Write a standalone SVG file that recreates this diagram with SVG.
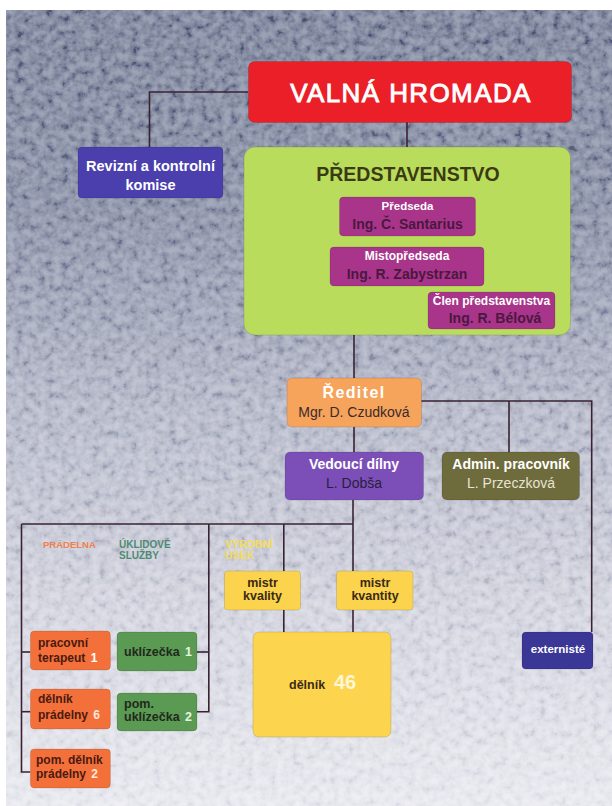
<svg xmlns="http://www.w3.org/2000/svg" width="612" height="806" viewBox="0 0 612 806">
<defs>
  <linearGradient id="bg" x1="0" y1="0" x2="0" y2="1">
    <stop offset="0" stop-color="#6d768e"/>
    <stop offset="0.25" stop-color="#858ca2"/>
    <stop offset="0.5" stop-color="#b9bccb"/>
    <stop offset="0.75" stop-color="#d9dae3"/>
    <stop offset="1" stop-color="#eeeef3"/>
  </linearGradient>
  <linearGradient id="fade" x1="0" y1="0" x2="0" y2="1">
    <stop offset="0" stop-color="#fff" stop-opacity="1"/>
    <stop offset="0.6" stop-color="#fff" stop-opacity="0.55"/>
    <stop offset="1" stop-color="#fff" stop-opacity="0.25"/>
  </linearGradient>
  <mask id="noiseMask">
    <rect x="0" y="0" width="612" height="806" fill="url(#fade)"/>
  </mask>
  <filter id="noise" x="0" y="0" width="100%" height="100%">
    <feTurbulence type="fractalNoise" baseFrequency="0.13" numOctaves="4" seed="11"/>
    <feColorMatrix type="matrix" values="1.9 0 0 0 -0.42  1.9 0 0 0 -0.4  1.9 0 0 0 -0.3  0 0 0 0 0.32"/>
  </filter>
  <style>
    .t { font-family: "Liberation Sans", Arial, sans-serif; text-anchor: middle; }
    .b { font-weight: bold; }
    .w { fill: #ffffff; }
    .l { font-family: "Liberation Sans", Arial, sans-serif; font-weight: bold; }
    .con { fill: none; stroke: #3a2232; stroke-width: 1.6; }
    .box { stroke: rgba(0,0,0,0.12); stroke-width: 1; }
  </style>
</defs>

<rect x="0" y="0" width="612" height="806" fill="#ffffff"/>
<rect x="6" y="10" width="606" height="796" fill="url(#bg)"/>
<rect x="6" y="10" width="606" height="796" filter="url(#noise)" mask="url(#noiseMask)"/>

<g id="connectors">
  <path class="con" d="M248,92 H149.5 V147"/>
  <path class="con" d="M407,122 V147"/>
  <path class="con" d="M407,236 V247"/>
  <path class="con" d="M475,217 H491 V292"/>
  <path class="con" d="M354,335 V378"/>
  <path class="con" d="M421,401 H591.7 V632"/>
  <path class="con" d="M509,401 V452"/>
  <path class="con" d="M354,427 V452"/>
  <path class="con" d="M353,500 V571"/>
  <path class="con" d="M21.5,524 H353"/>
  <path class="con" d="M208.8,524 V711.7 H197"/>
  <path class="con" d="M197,652 H208.8"/>
  <path class="con" d="M283.8,524 V571"/>
  <path class="con" d="M21.5,524 V772 H30.4"/>
  <path class="con" d="M21.5,652 H30.4"/>
  <path class="con" d="M21.5,711.7 H30.4"/>
  <path class="con" d="M283.8,610 V632"/>
  <path class="con" d="M353,610 V632"/>
</g>

<g id="valna-hromada">
  <rect class="box" x="248.5" y="61.5" width="323" height="61" rx="6" fill="#ea1f28"/>
  <text class="t w" x="411" y="102" font-size="26" letter-spacing="1.4" stroke="#ffffff" stroke-width="0.9">VALNÁ  HROMADA</text>
</g>

<g id="revizni-komise">
  <rect class="box" x="78" y="147" width="145" height="51" rx="4" fill="#4b3fae"/>
  <text class="t b w" x="150.5" y="171" font-size="14.5">Revizní a kontrolní</text>
  <text class="t b w" x="150.5" y="190" font-size="14.5">komise</text>
</g>

<g id="predstavenstvo">
  <rect class="box" x="244" y="147" width="326.5" height="188" rx="11" fill="#b9dc5d"/>
  <text class="t b" x="408" y="181" font-size="19.5" fill="#3b3a12">PŘEDSTAVENSTVO</text>
</g>

<g id="predseda">
  <rect class="box" x="339.5" y="197" width="136" height="39" rx="4" fill="#a8358a"/>
  <text class="t b w" x="407.5" y="210" font-size="11.5">Předseda</text>
  <text class="t b" x="407.5" y="229" font-size="14" fill="#4a1840">Ing. Č. Santarius</text>
</g>

<g id="mistopredseda">
  <rect class="box" x="330" y="247" width="154" height="39" rx="4" fill="#a8358a"/>
  <text class="t b w" x="407" y="260" font-size="12">Mistopředseda</text>
  <text class="t b" x="407" y="279" font-size="14" fill="#4a1840">Ing. R. Zabystrzan</text>
</g>

<g id="clen-predstavenstva">
  <rect class="box" x="428" y="292" width="127" height="37" rx="4" fill="#a8358a"/>
  <text class="t b w" x="491.5" y="305" font-size="12">Člen představenstva</text>
  <text class="t b" x="495" y="323" font-size="14" fill="#4a1840">Ing. R. Bélová</text>
</g>

<g id="reditel">
  <rect class="box" x="287" y="378" width="134.5" height="49" rx="5" fill="#f6a35c"/>
  <text class="t b w" x="354" y="398" font-size="16" letter-spacing="1.4">Ředitel</text>
  <text class="t" x="354" y="417" font-size="14" fill="#3a2a2a">Mgr. D. Czudková</text>
</g>

<g id="vedouci-dilny">
  <rect class="box" x="285" y="452" width="138.5" height="48" rx="5" fill="#7c4fb8"/>
  <text class="t b w" x="354" y="469" font-size="14">Vedoucí dílny</text>
  <text class="t" x="354" y="488" font-size="14" fill="#2a1e40">L. Dobša</text>
</g>

<g id="admin-pracovnik">
  <rect class="box" x="442" y="452" width="137.5" height="48" rx="5" fill="#6e6b3c"/>
  <text class="t b w" x="511" y="469" font-size="14">Admin. pracovník</text>
  <text class="t" x="511" y="488" font-size="14" fill="#e6e4d4">L. Przeczková</text>
</g>

<g id="labels">
  <text class="l" x="43" y="548" font-size="9.5" fill="#f0804e">PRÁDELNA</text>
  <text class="l" x="119" y="548" font-size="10" fill="#4d8a72">ÚKLIDOVÉ</text>
  <text class="l" x="119" y="559" font-size="10" fill="#4d8a72">SLUŽBY</text>
  <text class="l" x="225" y="548" font-size="10.5" fill="#f4dc5a">VÝROBNÍ</text>
  <text class="l" x="225" y="559" font-size="10.5" fill="#f4dc5a">ÚSEK</text>
</g>

<g id="mistr-kvality">
  <rect class="box" x="224.5" y="571" width="76" height="39" rx="3" fill="#fbd34c"/>
  <text class="t b" x="262.5" y="587" font-size="12.5" fill="#3a2a14">mistr</text>
  <text class="t b" x="262.5" y="600" font-size="12.5" fill="#3a2a14">kvality</text>
</g>

<g id="mistr-kvantity">
  <rect class="box" x="336.5" y="571" width="76.5" height="39" rx="3" fill="#fbd34c"/>
  <text class="t b" x="375" y="587" font-size="12.5" fill="#3a2a14">mistr</text>
  <text class="t b" x="375" y="600" font-size="12.5" fill="#3a2a14">kvantity</text>
</g>

<g id="delnik">
  <rect class="box" x="253" y="632" width="138" height="105" rx="6" fill="#fcd44e"/>
  <text class="l" x="289" y="689" font-size="12.5" fill="#3a2a14">dělník</text>
  <text class="l" x="334" y="689" font-size="20" fill="#fff6d6">46</text>
</g>

<g id="externiste">
  <rect class="box" x="522" y="632" width="71" height="37" rx="4" fill="#3b3796"/>
  <text class="t b w" x="558" y="653" font-size="11.5">externisté</text>
</g>

<g id="pracovni-terapeut">
  <rect class="box" x="30.4" y="631" width="80" height="39" rx="4" fill="#f4703a"/>
  <text class="l" x="38" y="647" font-size="12" fill="#4a1a10">pracovní</text>
  <text class="l" x="38" y="662" font-size="12" fill="#4a1a10">terapeut <tspan fill="#ffffff" dx="2">1</tspan></text>
</g>

<g id="delnik-pradelny">
  <rect class="box" x="30.4" y="689" width="80" height="40" rx="4" fill="#f4703a"/>
  <text class="l" x="38" y="703" font-size="12" fill="#4a1a10">dělník</text>
  <text class="l" x="38" y="718.5" font-size="12" fill="#4a1a10">prádelny <tspan fill="#ffe8d8" dx="2">6</tspan></text>
</g>

<g id="pom-delnik-pradelny">
  <rect class="box" x="30.4" y="749" width="80" height="39" rx="4" fill="#f4703a"/>
  <text class="l" x="36" y="764" font-size="12" fill="#4a1a10">pom. dělník</text>
  <text class="l" x="36" y="777.5" font-size="12" fill="#4a1a10">prádelny <tspan fill="#ffe8d8" dx="2">2</tspan></text>
</g>

<g id="uklizecka">
  <rect class="box" x="117" y="632" width="80" height="39" rx="4" fill="#5a9a52"/>
  <text class="l" x="124" y="655.5" font-size="12.5" fill="#22281e">uklízečka <tspan fill="#e6f4e0" dx="2">1</tspan></text>
</g>

<g id="pom-uklizecka">
  <rect class="box" x="117" y="693" width="80" height="38" rx="4" fill="#5a9a52"/>
  <text class="l" x="124" y="707.5" font-size="12.5" fill="#22281e">pom.</text>
  <text class="l" x="124" y="721" font-size="12.5" fill="#22281e">uklízečka <tspan fill="#e6f4e0" dx="2">2</tspan></text>
</g>
</svg>
